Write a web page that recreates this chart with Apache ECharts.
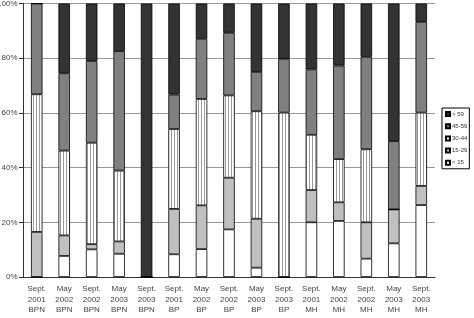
<!DOCTYPE html>
<html>
<head>
<meta charset="utf-8">
<script src="https://cdn.jsdelivr.net/npm/echarts@6/dist/echarts.min.js"></script>
<style>
  html, body { margin: 0; padding: 0; background: #fff; }
  #chart { width: 474px; height: 318px; }
</style>
</head>
<body>
<div id="chart"></div>
<script>
const categories = [
  'Sept.\n2001\nBPN', 'May\n2002\nBPN', 'Sept.\n2002\nBPN', 'May\n2003\nBPN', 'Sept.\n2003\nBPN',
  'Sept.\n2001\nBP', 'May\n2002\nBP', 'Sept.\n2002\nBP', 'May\n2003\nBP', 'Sept.\n2003\nBP',
  'Sept.\n2001\nMH', 'May\n2002\nMH', 'Sept.\n2002\nMH', 'May\n2003\nMH', 'Sept.\n2003\nMH'
];

// percentages per age group, bottom to top
const under15 = [0, 7.7, 10.1, 8.5, 0, 8.3, 10.2, 17.4, 3.4, 0, 20.0, 20.5, 6.7, 12.3, 26.3];
const age15to29 = [16.5, 7.5, 1.9, 4.5, 0, 16.6, 16.0, 18.9, 17.9, 0, 11.8, 6.8, 13.3, 12.4, 7.0];
const age30to44 = [50.3, 31.0, 37.1, 25.9, 0, 29.2, 38.9, 30.1, 39.3, 60.1, 20.2, 15.8, 26.7, 0, 26.8];
const age45to59 = [33.2, 28.3, 29.9, 43.7, 0, 12.6, 22.0, 22.9, 14.4, 19.7, 23.9, 34.2, 33.8, 25.0, 33.2];
const over59 = [0, 25.5, 21.0, 17.4, 100, 33.3, 12.9, 10.7, 25.0, 20.2, 24.1, 22.7, 19.5, 50.3, 6.7];

const yTicks = [0, 20, 40, 60, 80, 100];

// vertical stripes for 30-44
const stripe = document.createElement('canvas');
stripe.width = 3;
stripe.height = 3;
const ctx = stripe.getContext('2d');
ctx.fillStyle = '#ffffff';
ctx.fillRect(0, 0, 3, 3);
ctx.fillStyle = '#9a9a9a';
ctx.fillRect(0, 0, 1, 3);

const font = 'Liberation Sans, Arial, sans-serif';

const groups = [
  {name: '< 15', data: under15, color: '#ffffff'},
  {name: '15-29', data: age15to29, color: '#c0c0c0'},
  {name: '30-44', data: age30to44, color: {image: stripe, repeat: 'repeat'}},
  {name: '45-59', data: age45to59, color: '#808080'},
  {name: '> 59', data: over59, color: '#333333'}
];

const series = groups.map(g => ({
  name: g.name,
  type: 'bar',
  stack: 'total',
  barWidth: 11.5,
  data: g.data,
  itemStyle: {color: g.color, borderColor: '#000', borderWidth: 0.8},
  emphasis: {disabled: true}
}));

const option = {
  animation: false,
  grid: {left: 23, right: 39, top: 3.5, bottom: 41, outerBoundsMode: 'none'},
  legend: {
    orient: 'vertical',
    left: 442,
    top: 108,
    padding: [2, 2, 2, 3],
    itemGap: 4.2,
    itemWidth: 4,
    itemHeight: 4,
    icon: 'rect',
    borderColor: '#000',
    borderWidth: 1,
    textStyle: {fontSize: 6, fontFamily: font, color: '#333', padding: [0, 0, 0, -3], lineHeight: 8},
    data: ['> 59', '45-59', '30-44', '15-29', '< 15']
  },
  xAxis: {
    type: 'category',
    data: categories,
    axisLine: {lineStyle: {color: '#333', width: 1}},
    axisTick: {length: 4, lineStyle: {color: '#333'}},
    axisLabel: {fontSize: 8, fontFamily: font, color: '#444', lineHeight: 10.5, margin: 7, interval: 0}
  },
  yAxis: {
    type: 'value',
    min: yTicks[0],
    max: yTicks[yTicks.length - 1],
    interval: 20,
    axisLine: {show: true, lineStyle: {color: '#333', width: 1}},
    axisTick: {show: true, length: 4, lineStyle: {color: '#333'}},
    axisLabel: {formatter: '{value}%', fontSize: 8, fontFamily: font, color: '#444', margin: 5.5},
    splitLine: {lineStyle: {color: '#999', width: 1}}
  },
  series
};

const myChart = echarts.init(document.getElementById('chart'));
myChart.setOption(option);
</script>
</body>
</html>
